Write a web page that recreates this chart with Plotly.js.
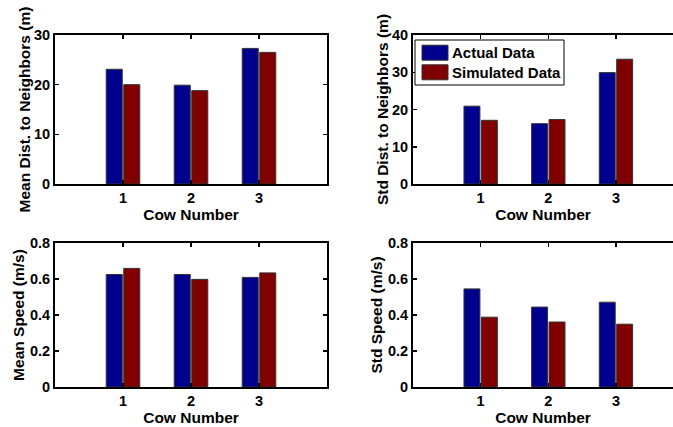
<!DOCTYPE html>
<html>
<head>
<meta charset="utf-8">
<script src="https://cdn.plot.ly/plotly-3.0.1.min.js"></script>
<style>html,body{margin:0;padding:0;background:#fff;}#chart{width:673px;height:427px;}</style>
</head>
<body>
<div id="chart"></div>
<script>
const cows = [1, 2, 3];
const tickLabels = ['1', '2', '3'];
const meanDistActual = [23.1, 19.9, 27.3];
const meanDistSim = [20.0, 18.8, 26.5];
const stdDistActual = [20.9, 16.2, 29.9];
const stdDistSim = [17.1, 17.3, 33.5];
const meanSpeedActual = [0.625, 0.625, 0.609];
const meanSpeedSim = [0.659, 0.598, 0.634];
const stdSpeedActual = [0.545, 0.444, 0.471];
const stdSpeedSim = [0.388, 0.361, 0.349];
const seriesNames = ['Actual Data', 'Simulated Data'];

const BLUE = '#00008F';
const RED = '#800000';
const FAM = 'Liberation Sans, Arial, sans-serif';
const TICKFONT = {family: FAM, size: 14.5, color: '#000', weight: 'bold'};
const LEGENDFONT = {family: FAM, size: 15, color: '#000', weight: 'bold'};
const TITLEFONT = {family: FAM, size: 15.5, color: '#000', weight: 'bold'};

function bars(vals, name, color, xa, ya) {
  return {
    type: 'bar', x: cows, y: vals, name: name, xaxis: xa, yaxis: ya,
    marker: {color: color, line: {color: '#333', width: 1}},
    showlegend: false, hoverinfo: 'skip'
  };
}

const data = [
  bars(meanDistActual, seriesNames[0], BLUE, 'x', 'y'),
  bars(meanDistSim, seriesNames[1], RED, 'x', 'y'),
  bars(stdDistActual, seriesNames[0], BLUE, 'x2', 'y2'),
  bars(stdDistSim, seriesNames[1], RED, 'x2', 'y2'),
  bars(meanSpeedActual, seriesNames[0], BLUE, 'x3', 'y3'),
  bars(meanSpeedSim, seriesNames[1], RED, 'x3', 'y3'),
  bars(stdSpeedActual, seriesNames[0], BLUE, 'x4', 'y4'),
  bars(stdSpeedSim, seriesNames[1], RED, 'x4', 'y4')
];

const W = 673, H = 427;
function xax(l, r, range, anchor) {
  return {
    domain: [l / W, r / W], range: range, anchor: anchor,
    tickmode: 'array', tickvals: cows, ticktext: tickLabels,
    ticks: 'inside', ticklen: 4, tickwidth: 1.5, tickcolor: '#000',
    showline: true, linecolor: '#000', linewidth: 2, mirror: 'ticks',
    showgrid: false, zeroline: false, tickfont: TICKFONT, ticklabelstandoff: 0,
    title: {text: 'Cow Number', font: TITLEFONT, standoff: 0}
  };
}
function yax(t, b, range, dtick, title, anchor, mirror, standoff) {
  return {
    domain: [1 - b / H, 1 - t / H], range: range, dtick: dtick, tick0: 0, anchor: anchor,
    ticks: 'inside', ticklen: 4, tickwidth: 1.5, tickcolor: '#000',
    showline: true, linecolor: '#000', linewidth: 2, mirror: mirror,
    showgrid: false, zeroline: false, tickfont: TICKFONT,
    title: {text: title, font: TITLEFONT, standoff: standoff}
  };
}

// Legend drawn in paper coordinates (top-right panel), built from seriesNames
const legendColors = [BLUE, RED];
const LX0 = 415, LX1 = 564, LY0 = 40, LY1 = 85;
const shapes = [{
  type: 'rect', xref: 'paper', yref: 'paper',
  x0: LX0 / W, x1: LX1 / W, y0: 1 - LY0 / H, y1: 1 - LY1 / H,
  line: {color: '#000', width: 1}, fillcolor: '#fff', layer: 'above'
}];
const annotations = [];
seriesNames.forEach((nm, i) => {
  const cy = 52.7 + i * 19.6;
  shapes.push({
    type: 'rect', xref: 'paper', yref: 'paper',
    x0: 422 / W, x1: 448 / W, y0: 1 - (cy - 7.5) / H, y1: 1 - (cy + 7.5) / H,
    line: {color: '#333', width: 1}, fillcolor: legendColors[i], layer: 'above'
  });
  annotations.push({
    xref: 'paper', yref: 'paper', x: 450.5 / W, y: 1 - cy / H,
    xanchor: 'left', yanchor: 'middle', showarrow: false,
    text: nm, font: LEGENDFONT
  });
});

const layout = {
  width: W, height: H,
  margin: {l: 0, r: 0, t: 0, b: 0},
  paper_bgcolor: '#fff', plot_bgcolor: '#fff',
  barmode: 'group', bargap: 0.485, bargroupgap: 0.085,
  font: TICKFONT,
  showlegend: false,
  shapes: shapes, annotations: annotations,
  xaxis: xax(55, 327, [0, 4], 'y'),
  yaxis: yax(35, 184, [0, 30], 10, 'Mean Dist. to Neighbors (m)', 'x', 'ticks', 0),
  xaxis2: xax(413, 673, [0, (673 - 413) / 67.65], 'y2'),
  yaxis2: yax(35, 184, [0, 40], 10, 'Std Dist. to Neighbors (m)', 'x2', false, 0),
  xaxis3: xax(55, 327, [0, 4], 'y3'),
  yaxis3: yax(243, 387, [0, 0.8], 0.2, 'Mean Speed (m/s)', 'x3', 'ticks', 2),
  xaxis4: xax(413, 673, [0, (673 - 413) / 67.65], 'y4'),
  yaxis4: yax(243, 387, [0, 0.8], 0.2, 'Std Speed (m/s)', 'x4', false, 2)
};

Plotly.newPlot('chart', data, layout, {staticPlot: true, displayModeBar: false});
</script>
</body>
</html>
